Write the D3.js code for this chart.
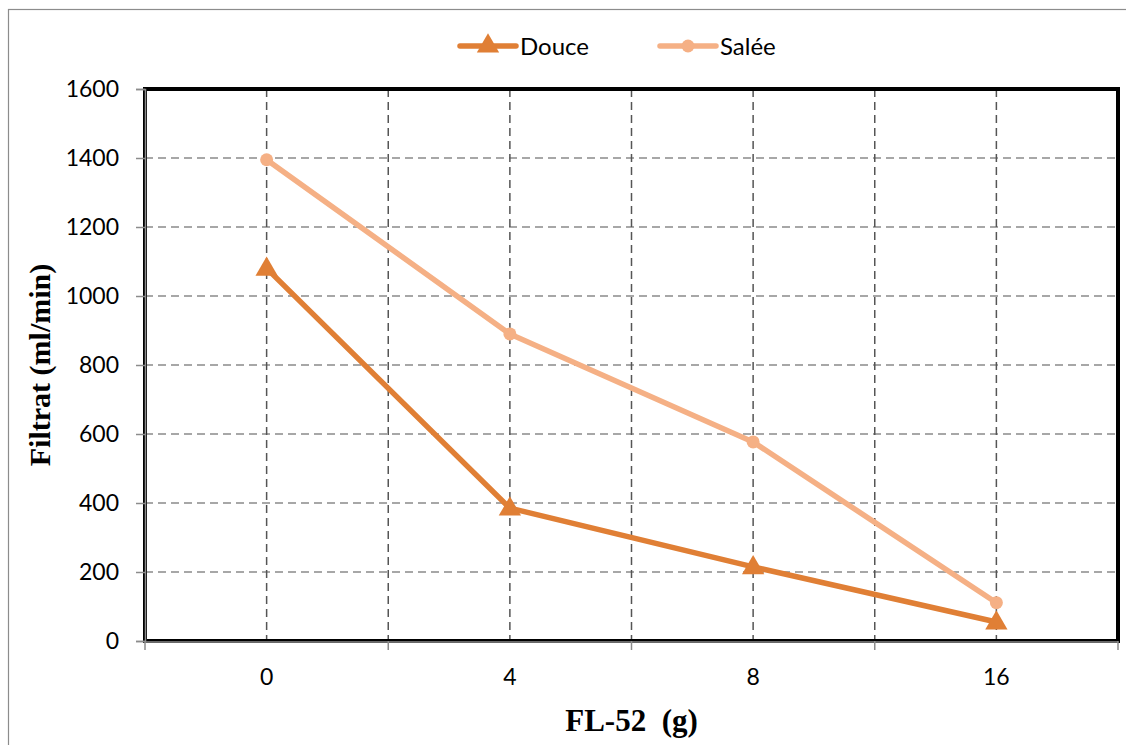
<!DOCTYPE html>
<html>
<head>
<meta charset="utf-8">
<script src="https://cdn.jsdelivr.net/npm/d3@7/dist/d3.min.js"></script>
<style>
  html, body { margin: 0; padding: 0; background: #fff; }
  svg { display: block; }
</style>
</head>
<body>
<div id="chart"></div>
<script>
const categories = ['0', '4', '8', '16'];
const douce = [1080, 385, 215, 55];
const salee = [1395, 890, 577, 111];
const yTicks = [0, 200, 400, 600, 800, 1000, 1200, 1400, 1600];

const W = 1126;
const H = 745;
const margin = { top: 89, right: 8, bottom: 104, left: 145 };
const innerW = W - margin.left - margin.right;
const innerH = H - margin.top - margin.bottom;

const colors = { douce: '#e07f35', salee: '#f5b085' };
const labelFont = 'Lato, "Open Sans", sans-serif';
const titleFont = '"Liberation Serif", "Times New Roman", serif';

const svg = d3.select('#chart').append('svg')
  .attr('width', W)
  .attr('height', H);

// outer frame
svg.append('rect')
  .attr('x', 8.5).attr('y', 9.5)
  .attr('width', W + 20).attr('height', H + 20)
  .attr('fill', 'none')
  .attr('stroke', '#8c8c8c')
  .attr('stroke-width', 1.2);

const x = d3.scaleBand().domain(categories).range([0, innerW]).padding(0);
const y = d3.scaleLinear().domain([0, 1600]).range([innerH, 0]);

const g = svg.append('g').attr('transform', `translate(${margin.left},${margin.top})`);

// horizontal grid
g.append('g')
  .selectAll('line')
  .data(yTicks.filter((d) => d > 0 && d < 1600))
  .join('line')
  .attr('x1', 0).attr('x2', innerW)
  .attr('y1', (d) => y(d)).attr('y2', (d) => y(d))
  .attr('stroke', '#8a8a8a')
  .attr('stroke-width', 1.5)
  .attr('stroke-dasharray', '8,5');

// vertical grid: band centres and interior band edges
const vLines = categories.map((c) => x(c) + x.bandwidth() / 2)
  .concat(categories.slice(1).map((c) => x(c)));
g.append('g')
  .selectAll('line')
  .data(vLines)
  .join('line')
  .attr('x1', (d) => d).attr('x2', (d) => d)
  .attr('y1', 0).attr('y2', innerH)
  .attr('stroke', '#555')
  .attr('stroke-width', 1.5)
  .attr('stroke-dasharray', '8,5');

// plot frame
g.append('rect')
  .attr('x', 0).attr('y', 0)
  .attr('width', innerW).attr('height', innerH)
  .attr('fill', 'none')
  .attr('stroke', '#000')
  .attr('stroke-width', 4);

// y axis
const yAxis = g.append('g')
  .call(d3.axisLeft(y).tickValues(yTicks).tickFormat(d3.format('d')).tickSize(9).tickPadding(17));
yAxis.select('.domain').attr('stroke', '#8c8c8c').attr('stroke-width', 1.5);
yAxis.selectAll('.tick line').attr('stroke', '#8c8c8c').attr('stroke-width', 1.5);
yAxis.selectAll('text')
  .attr('font-family', labelFont)
  .attr('font-size', 23)
  .attr('fill', '#000');

// x axis: ticks at band edges, labels at band centres
const edges = categories.map((c) => x(c)).concat([innerW]);
const xg = g.append('g').attr('transform', `translate(0,${innerH})`);
xg.append('line')
  .attr('x1', 0).attr('x2', innerW)
  .attr('y1', 1).attr('y2', 1)
  .attr('stroke', '#8c8c8c').attr('stroke-width', 1.5);
xg.selectAll('line.tk')
  .data(edges)
  .join('line')
  .attr('class', 'tk')
  .attr('x1', (d) => d).attr('x2', (d) => d)
  .attr('y1', 0).attr('y2', 9)
  .attr('stroke', '#8c8c8c').attr('stroke-width', 1.5);
xg.selectAll('text')
  .data(categories)
  .join('text')
  .attr('x', (d) => x(d) + x.bandwidth() / 2)
  .attr('y', 44)
  .attr('text-anchor', 'middle')
  .attr('font-family', labelFont)
  .attr('font-size', 23)
  .text((d) => d);

// axis titles
svg.append('text')
  .attr('x', margin.left + innerW / 2)
  .attr('y', 731)
  .attr('text-anchor', 'middle')
  .attr('font-family', titleFont)
  .attr('font-weight', 'bold')
  .attr('font-size', 31)
  .attr('xml:space', 'preserve')
  .text('FL-52  (g)');

svg.append('text')
  .attr('transform', `translate(50,${margin.top + innerH / 2}) rotate(-90)`)
  .attr('text-anchor', 'middle')
  .attr('font-family', titleFont)
  .attr('font-weight', 'bold')
  .attr('font-size', 30)
  .text('Filtrat (ml/min)');

const cx = (i) => x(categories[i]) + x.bandwidth() / 2;
const line = d3.line().x((d, i) => cx(i)).y((d) => y(d));
const tri = d3.symbol().type(d3.symbolTriangle).size(215);

// Salée series
g.append('path')
  .attr('d', line(salee))
  .attr('fill', 'none')
  .attr('stroke', colors.salee)
  .attr('stroke-width', 5.5)
  .attr('stroke-linejoin', 'round');
g.selectAll('circle.salee')
  .data(salee)
  .join('circle')
  .attr('class', 'salee')
  .attr('cx', (d, i) => cx(i))
  .attr('cy', (d) => y(d))
  .attr('r', 6.5)
  .attr('fill', colors.salee);

// Douce series
g.append('path')
  .attr('d', line(douce))
  .attr('fill', 'none')
  .attr('stroke', colors.douce)
  .attr('stroke-width', 5.5)
  .attr('stroke-linejoin', 'round');
g.selectAll('path.douce')
  .data(douce)
  .join('path')
  .attr('class', 'douce')
  .attr('transform', (d, i) => `translate(${cx(i)},${y(d) + 1})`)
  .attr('d', tri)
  .attr('fill', colors.douce);

// legend
const legendItems = [
  { name: 'Douce', color: colors.douce, marker: 'tri', x: 460 },
  { name: 'Salée', color: colors.salee, marker: 'circle', x: 660 },
];
const lg = svg.append('g').selectAll('g')
  .data(legendItems)
  .join('g')
  .attr('transform', (d) => `translate(${d.x},46)`);
lg.append('line')
  .attr('x1', 0).attr('x2', 56)
  .attr('stroke', (d) => d.color)
  .attr('stroke-width', 5.5)
  .attr('stroke-linecap', 'round');
lg.each(function (d) {
  const s = d3.select(this);
  if (d.marker === 'tri') {
    s.append('path').attr('transform', 'translate(28,0)').attr('d', tri).attr('fill', d.color);
  } else {
    s.append('circle').attr('cx', 28).attr('r', 6.5).attr('fill', d.color);
  }
});
lg.append('text')
  .attr('x', 60)
  .attr('y', 9)
  .attr('font-family', labelFont)
  .attr('font-size', 24)
  .text((d) => d.name);
</script>
</body>
</html>
